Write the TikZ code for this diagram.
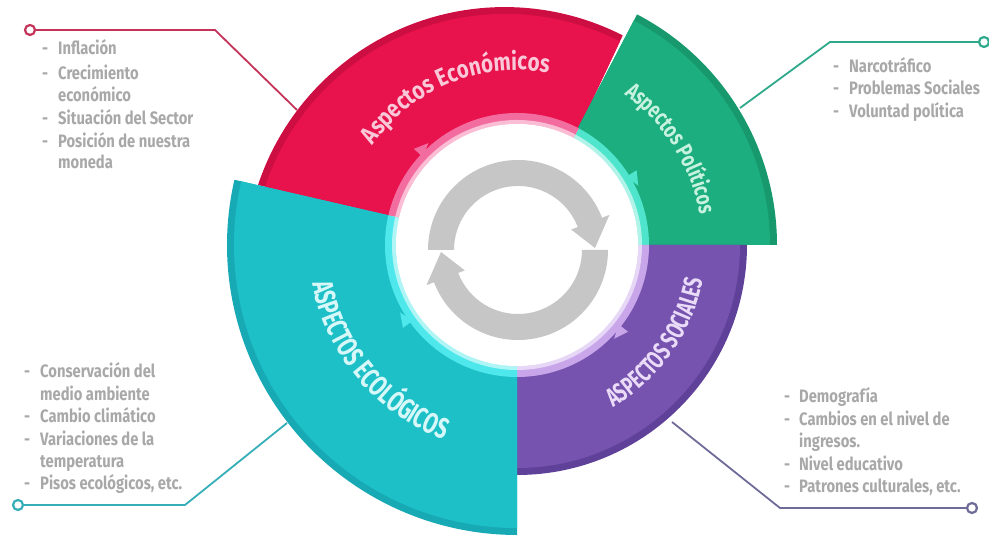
\documentclass[tikz,border=0pt]{standalone}
\usepackage{fontspec}
\usetikzlibrary{decorations.text}
\newfontfamily\listfont[FakeStretch=0.82]{Fira Sans}
\newfontfamily\ecofont[FakeStretch=0.82]{Fira Sans}
\newfontfamily\polfont[FakeStretch=0.76]{Fira Sans}
\newfontfamily\socfont[FakeStretch=0.67]{Fira Sans}
\newfontfamily\ecolfont[FakeStretch=0.69]{Fira Sans}
\definecolor{redM}{HTML}{E8124C}
\definecolor{redD}{HTML}{CC0E42}
\definecolor{redG}{HTML}{F36CA0}
\definecolor{redL}{HTML}{FAC8D8}
\definecolor{grnM}{HTML}{1CAE7E}
\definecolor{grnD}{HTML}{17986D}
\definecolor{grnG}{HTML}{4FE4CC}
\definecolor{grnL}{HTML}{C8F2E0}
\definecolor{purM}{HTML}{7553AE}
\definecolor{purD}{HTML}{5F4199}
\definecolor{purG}{HTML}{C9A6EA}
\definecolor{purL}{HTML}{EADCF8}
\definecolor{teaM}{HTML}{1EC0C8}
\definecolor{teaD}{HTML}{18AAB4}
\definecolor{teaG}{HTML}{4EE8EC}
\definecolor{teaL}{HTML}{D6F8F8}
\definecolor{arrG}{HTML}{C6C6C6}
\definecolor{txtG}{HTML}{A8A8A8}
\definecolor{lnR}{HTML}{C4345A}
\definecolor{lnG}{HTML}{2EA98C}
\definecolor{lnT}{HTML}{35AEB8}
\definecolor{lnP}{HTML}{6E6B98}
\newcommand{\annsec}[5]{\fill[#1] (#2:#4pt) arc[start angle=#2, end angle=#3, radius=#4pt] -- (#3:#5pt) arc[start angle=#3, end angle=#2, radius=#5pt] -- cycle;}
\newcommand{\dsh}{\makebox[16pt][l]{-}}
\begin{document}
\begin{tikzpicture}[x=1pt,y=1pt,
  lst/.style={font=\listfont\bfseries\fontsize{18}{22}\selectfont, text=txtG, inner sep=0pt, anchor=base west},
  endc/.style={circle, draw=#1, line width=2.2pt, fill=white, minimum size=10pt, inner sep=0pt},
  conn/.style={draw=#1, line width=1.8pt},
  ringtxt/.style={decorate, decoration={text along path, text align=center, text color=#1}}]
\useasboundingbox (0,0) rectangle (989,537);
% connectors
\node[endc=lnR] (eA) at (30,507) {};
\coordinate (eB) at (215,507);
\coordinate (eC) at (297,427);
\draw[conn=lnR] (eA) -- (eB) -- (eC);
\node[endc=lnG] (pA) at (984,495) {};
\coordinate (pB) at (830,495);
\coordinate (pC) at (740,429);
\draw[conn=lnG] (pA) -- (pB) -- (pC);
\node[endc=lnT] (tA) at (18,32) {};
\coordinate (tB) at (185,32);
\coordinate (tC) at (287,114);
\draw[conn=lnT] (tA) -- (tB) -- (tC);
\node[endc=lnP] (sA) at (972,29) {};
\coordinate (sB) at (780,29);
\coordinate (sC) at (672,115);
\draw[conn=lnP] (sA) -- (sB) -- (sC);
% ring
\begin{scope}[shift={(517,292)}]
% red (economic)
\fill[redD] (62:131pt) arc[start angle=62, end angle=167, radius=131pt] -- (-259,60) arc[start angle=161.6, end angle=63, radius=260pt] -- cycle;
\fill[redM] (62:131pt) arc[start angle=62, end angle=167, radius=131pt] -- (-252,58) arc[start angle=161.6, end angle=63, radius=253pt] -- cycle;
% green (political)
\annsec{grnD}{0}{62.5}{131}{260}
\annsec{grnM}{0}{62.5}{131}{253}
% purple (social)
\annsec{purD}{-90}{0}{131}{230}
\annsec{purM}{-90}{0}{131}{223}
% teal (ecological)
\annsec{teaD}{167}{270}{131}{290}
\annsec{teaM}{167}{270}{131}{283}
% glow bands
\annsec{redG}{62}{167}{121}{132}
\annsec{grnG}{0}{62}{121}{132}
\annsec{purG}{-90}{0}{121}{132}
\annsec{teaG}{167}{270}{121}{132}
\annsec{redG!45!white}{62}{167}{121}{125}
\annsec{grnG!45!white}{0}{62}{121}{125}
\annsec{purG!45!white}{-90}{0}{121}{125}
\annsec{teaG!45!white}{167}{270}{121}{125}
\fill[white] (0,0) circle[radius=121pt];
% small pointers
\fill[redG] (137:129pt) -- (137:141pt) -- (131:135pt) -- cycle;
\fill[grnG] (32:129pt) -- (32:141pt) -- (26:135pt) -- cycle;
\fill[teaG] (216:129pt) -- (216:141pt) -- (210:135pt) -- cycle;
\fill[purG] (-38:129pt) -- (-38:141pt) -- (-44:135pt) -- cycle;
% central arrows
\begin{scope}[shift={(1,-5)}]
\fill[arrG] (180:90pt) arc[start angle=180, end angle=21, radius=90pt] -- (21:98pt) -- (1.5:77pt) -- (21:57pt) -- (21:64pt) arc[start angle=21, end angle=180, radius=64pt] -- cycle;
\fill[arrG, rotate=180] (180:90pt) arc[start angle=180, end angle=21, radius=90pt] -- (21:98pt) -- (1.5:77pt) -- (21:57pt) -- (21:64pt) arc[start angle=21, end angle=180, radius=64pt] -- cycle;
\end{scope}
% ring labels
\path[ringtxt=redL, decoration={text={|\ecofont\bfseries\fontsize{25}{25}\selectfont|Aspectos Económicos}}] (165:175pt) arc[start angle=165, end angle=60, radius=175pt];
\path[ringtxt=grnL, decoration={text={|\polfont\bfseries\fontsize{23}{23}\selectfont|Aspectos Políticos}}] (82:185pt) arc[start angle=82, end angle=-18, radius=185pt];
\path[ringtxt=purL, decoration={text={|\socfont\bfseries\fontsize{26}{26}\selectfont|ASPECTOS SOCIALES}}] (-88:189pt) arc[start angle=-88, end angle=18, radius=189pt];
\path[ringtxt=teaL, decoration={text={|\ecolfont\bfseries\fontsize{29}{29}\selectfont|ASPECTOS ECOLÓGICOS}}] (163:208pt) arc[start angle=163, end angle=277, radius=208pt];
\end{scope}
% lists
\node[lst] (e1) at (42,482) {\dsh Inflación};
\node[lst] (e2) at (42,457) {\dsh Crecimiento};
\node[lst] (e3) at (58,435) {económico};
\node[lst] (e4) at (42,412) {\dsh Situación del Sector};
\node[lst] (e5) at (42,389) {\dsh Posición de nuestra};
\node[lst] (e6) at (58,368) {moneda};
\node[lst] (p1) at (833,464) {\dsh Narcotráfico};
\node[lst] (p2) at (833,442) {\dsh Problemas Sociales};
\node[lst] (p3) at (833,419) {\dsh Voluntad política};
\node[lst] (t1) at (24,159) {\dsh Conservación del};
\node[lst] (t2) at (40,136.6) {medio ambiente};
\node[lst] (t3) at (24,114.2) {\dsh Cambio climático};
\node[lst] (t4) at (24,91.8) {\dsh Variaciones de la};
\node[lst] (t5) at (40,69.4) {temperatura};
\node[lst] (t6) at (24,47) {\dsh Pisos ecológicos, etc.};
\node[lst] (s1) at (784,134) {\makebox[15pt][l]{-}Demografía};
\node[lst] (s2) at (784,111.5) {\makebox[15pt][l]{-}Cambios en el nivel de};
\node[lst] (s3) at (799,89) {ingresos.};
\node[lst] (s4) at (784,66.5) {\makebox[15pt][l]{-}Nivel educativo};
\node[lst] (s5) at (784,44) {\makebox[15pt][l]{-}Patrones culturales, etc.};
\end{tikzpicture}
\end{document}
